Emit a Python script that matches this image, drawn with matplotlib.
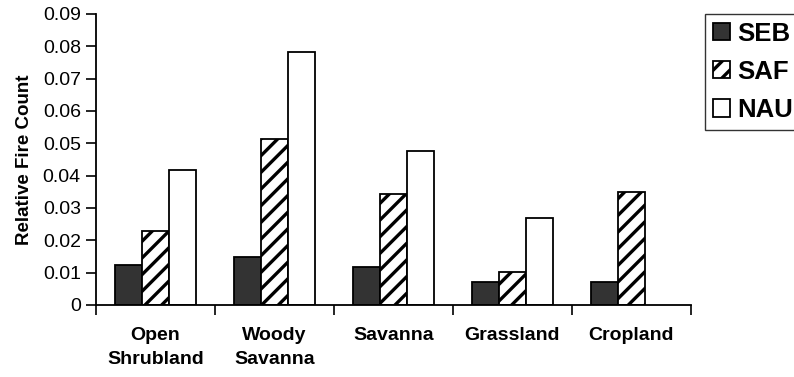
import matplotlib.pyplot as plt
import numpy as np

plt.rcParams['font.family'] = ['Liberation Sans', 'DejaVu Sans']
plt.rcParams['hatch.linewidth'] = 2.4

categories = ['Open\nShrubland', 'Woody\nSavanna', 'Savanna', 'Grassland', 'Cropland']
seb = [0.0124, 0.0148, 0.0119, 0.0072, 0.0072]
saf = [0.0229, 0.0513, 0.0342, 0.0101, 0.0350]
nau = [0.0418, 0.0781, 0.0477, 0.0268, np.nan]
series_names = ['SEB', 'SAF', 'NAU']

fig = plt.figure(figsize=(7.94, 3.77), dpi=100)
ax = fig.add_axes([0.121, 0.191, 0.749, 0.772])

x = np.arange(len(categories)) + 0.5
w = 0.225
ax.bar(x - w, seb, w, color='#333333', edgecolor='black', linewidth=1.3, label=series_names[0])
ax.bar(x, saf, w, color='white', edgecolor='black', hatch='//', linewidth=1.3, label=series_names[1])
ax.bar(x + w, nau, w, color='white', edgecolor='black', linewidth=1.3, label=series_names[2])

ax.set_xlim(0, len(categories))
ax.set_ylim(0, 0.09)
ax.set_yticks(np.arange(0, 0.0901, 0.01))
ax.set_yticklabels(['0'] + ['%.2f' % v for v in np.arange(0.01, 0.0901, 0.01)])

ax.set_xticks(np.arange(0, len(categories) + 1))
ax.set_xticklabels([])
ax.set_xticks(x, minor=True)
ax.set_xticklabels(categories, minor=True, fontsize=14, fontweight='bold', linespacing=1.55)
ax.tick_params(axis='x', which='minor', length=0, pad=16)
ax.tick_params(axis='x', which='major', direction='out', length=7, width=1.2)
ax.tick_params(axis='y', direction='out', length=7, width=1.2, labelsize=14, pad=4)

for side in ['top', 'right']:
    ax.spines[side].set_visible(False)
for side in ['left', 'bottom']:
    ax.spines[side].set_linewidth(1.3)

ax.set_ylabel('Relative Fire Count', fontsize=13.5, fontweight='bold', labelpad=7)

leg = fig.legend(loc='upper left', bbox_to_anchor=(0.888, 0.963),
                 prop={'size': 18.5, 'weight': 'bold'}, frameon=True, fancybox=False,
                 handlelength=0.66, handleheight=0.66, handletextpad=0.3,
                 labelspacing=0.55, borderpad=0.3, borderaxespad=0)
leg.get_frame().set_edgecolor('black')
leg.get_frame().set_linewidth(1.0)

fig.savefig('out.png', dpi=100)
